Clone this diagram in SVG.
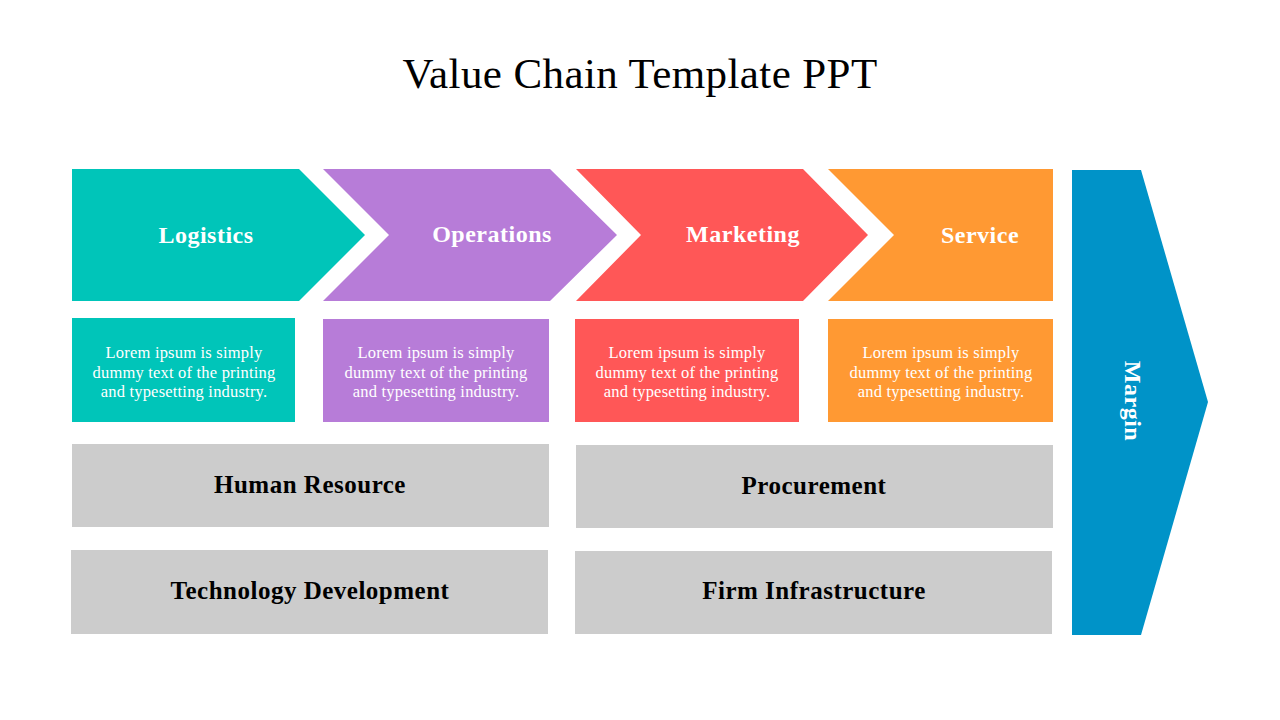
<svg xmlns="http://www.w3.org/2000/svg" width="1280" height="720" viewBox="0 0 1280 720">
<style>
.title{font-family:"Liberation Serif","DejaVu Serif",serif;font-size:43px;letter-spacing:0.4px;fill:#000;text-anchor:middle}
.head{font-family:"Liberation Serif","DejaVu Serif",serif;font-size:24px;letter-spacing:0.5px;font-weight:bold;fill:#fff;text-anchor:middle;dominant-baseline:central}
.body{font-family:"Liberation Serif","DejaVu Serif",serif;font-size:16.5px;letter-spacing:0.2px;fill:#fff;text-anchor:middle}
.sup{font-family:"Liberation Serif","DejaVu Serif",serif;font-size:25px;letter-spacing:0.5px;font-weight:bold;fill:#000;text-anchor:middle;dominant-baseline:central}
</style>
<rect width="1280" height="720" fill="#fff"/>
<text class="title" x="640" y="88">Value Chain Template PPT</text>
<g id="logistics">
<polygon points="72,169 299,169 365,235 299,301 72,301" fill="#00C5B9"/>
<text class="head" x="206" y="235">Logistics</text>
</g>
<g id="operations">
<polygon points="323,169 550,169 617,235 550,301 323,301 389,235" fill="#B77CD8"/>
<text class="head" x="492" y="234">Operations</text>
</g>
<g id="marketing">
<polygon points="576,169 803,169 868,235 803,301 576,301 641,235" fill="#FF5757"/>
<text class="head" x="743" y="234">Marketing</text>
</g>
<g id="service">
<polygon points="828,169 1053,169 1053,301 828,301 894,235" fill="#FF9933"/>
<text class="head" x="980" y="235">Service</text>
</g>
<g id="logistics-desc">
<rect x="72" y="318" width="223" height="104" fill="#00C5B9"/>
<text class="body" x="184" y="358">Lorem ipsum is simply</text>
<text class="body" x="184" y="378">dummy text of the printing</text>
<text class="body" x="184" y="397">and typesetting industry.</text>
</g>
<g id="operations-desc">
<rect x="323" y="319" width="226" height="103" fill="#B77CD8"/>
<text class="body" x="436" y="358">Lorem ipsum is simply</text>
<text class="body" x="436" y="378">dummy text of the printing</text>
<text class="body" x="436" y="397">and typesetting industry.</text>
</g>
<g id="marketing-desc">
<rect x="575" y="319" width="224" height="103" fill="#FF5757"/>
<text class="body" x="687" y="358">Lorem ipsum is simply</text>
<text class="body" x="687" y="378">dummy text of the printing</text>
<text class="body" x="687" y="397">and typesetting industry.</text>
</g>
<g id="service-desc">
<rect x="828" y="319" width="225" height="103" fill="#FF9933"/>
<text class="body" x="941" y="358">Lorem ipsum is simply</text>
<text class="body" x="941" y="378">dummy text of the printing</text>
<text class="body" x="941" y="397">and typesetting industry.</text>
</g>
<g id="human-resource">
<rect x="72" y="444" width="477" height="83" fill="#CCCCCC"/>
<text class="sup" x="310" y="484">Human Resource</text>
</g>
<g id="procurement">
<rect x="576" y="445" width="477" height="83" fill="#CCCCCC"/>
<text class="sup" x="814" y="485">Procurement</text>
</g>
<g id="technology-development">
<rect x="71" y="550" width="477" height="84" fill="#CCCCCC"/>
<text class="sup" x="310" y="590">Technology Development</text>
</g>
<g id="firm-infrastructure">
<rect x="575" y="551" width="477" height="83" fill="#CCCCCC"/>
<text class="sup" x="814" y="590">Firm Infrastructure</text>
</g>
<g id="margin">
<polygon points="1072,170 1141,170 1208,402 1141,635 1072,635" fill="#0093C8"/>
<text class="head" transform="translate(1133,401) rotate(90)" x="0" y="0">Margin</text>
</g>
<g id="connectors"></g>
</svg>
